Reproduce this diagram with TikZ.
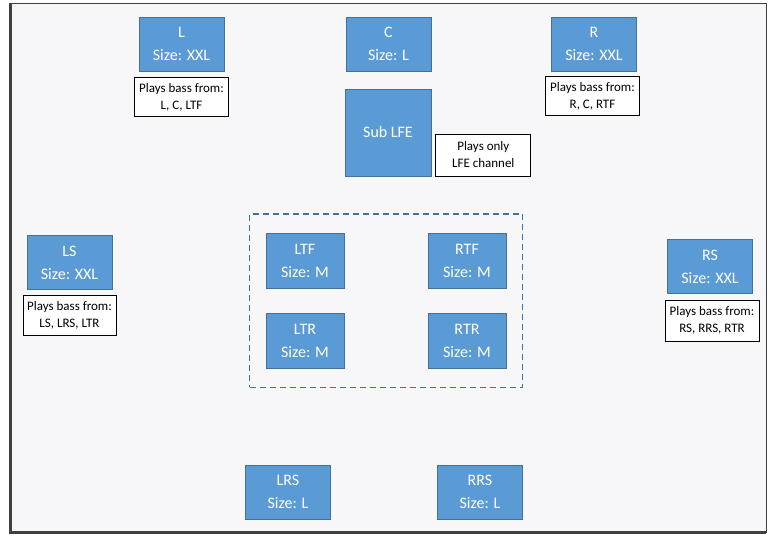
\documentclass[tikz,border=0pt]{standalone}
\usepackage{fontspec}
\setmainfont{Carlito}
\usepackage{tikz}
\usetikzlibrary{positioning}
\usetikzlibrary{fit}
\definecolor{spkfill}{HTML}{5B9BD5}
\definecolor{spkline}{HTML}{41719C}
\definecolor{roomfill}{HTML}{F7F7F9}
\definecolor{roomline}{HTML}{404040}

\begin{document}
\begin{tikzpicture}[x=1pt, y=-1pt, node distance=5pt]
\tikzstyle{speaker}=[draw=spkline, fill=spkfill, line width=0.8pt, text=white, align=center, inner sep=0pt, minimum width=85pt, minimum height=54pt, font=\fontsize{16}{23}\selectfont]
\tikzstyle{small}=[speaker, minimum width=78pt, minimum height=55pt]
\tikzstyle{note}=[draw=black, fill=white, line width=0.8pt, align=center, inner sep=0pt, minimum width=94pt, minimum height=39pt, font=\fontsize{13}{17}\selectfont]
\useasboundingbox (0,0) rectangle (776,538);
% room
\fill[roomfill] (10,3) rectangle (766,532);
\draw[roomline, line width=1pt] (10,3) rectangle (766,532);
\draw[roomline, line width=3pt] (10,3) -- (10,532) -- (766,532);

% front
\node[speaker]  (L)     at (181.5,44)   {L\\Size: XXL};
\node[speaker]  (C)     at (388.5,44)   {C\\Size: L};
\node[speaker]  (R)     at (594,44)     {R\\Size: XXL};
\node[speaker, minimum width=86pt, minimum height=87pt] (sub) at (388,132.5) {Sub LFE};
\node[note]     (Lbass)[below=6pt of L]  {Plays bass from:\\L, C, LTF};
\node[note]     (Rbass)[below=5pt of R, xshift=-1.5pt]  {Plays bass from:\\R, C, RTF};
\node[note, minimum width=95pt, minimum height=42pt, anchor=south west] (subnote) at ([xshift=4pt]sub.south east) {Plays only\\LFE channel};

% sides
\node[speaker]  (LS)    at (69.5,262.5) {LS\\Size: XXL};
\node[speaker]  (RS)    at (710,266.5)  {RS\\Size: XXL};
\node[note, minimum width=93pt, minimum height=40pt] (LSbass)[below=of LS] {Plays bass from:\\LS, LRS, LTR};
\node[note, minimum height=41pt] (RSbass)[below=6pt of RS, xshift=2pt] {Plays bass from:\\RS, RRS, RTR};

% heights
\node[small]    (LTF)   at (305,260.5)  {LTF\\Size: M};
\node[small]    (RTF)   at (467,260.5)  {RTF\\Size: M};
\node[small]    (LTR)   at (305,341)    {LTR\\Size: M};
\node[small]    (RTR)   at (467,341)    {RTR\\Size: M};
\node[draw=spkline, dash pattern=on 6pt off 4pt, line width=1.5pt, inner xsep=16pt, inner ysep=18.5pt, fit=(LTF)(RTR)] (top) {};

% rear
\node[speaker]  (LRS)   at (288,492)    {LRS\\Size: L};
\node[speaker]  (RRS)   at (480,492)    {RRS\\Size: L};
\end{tikzpicture}
\end{document}
